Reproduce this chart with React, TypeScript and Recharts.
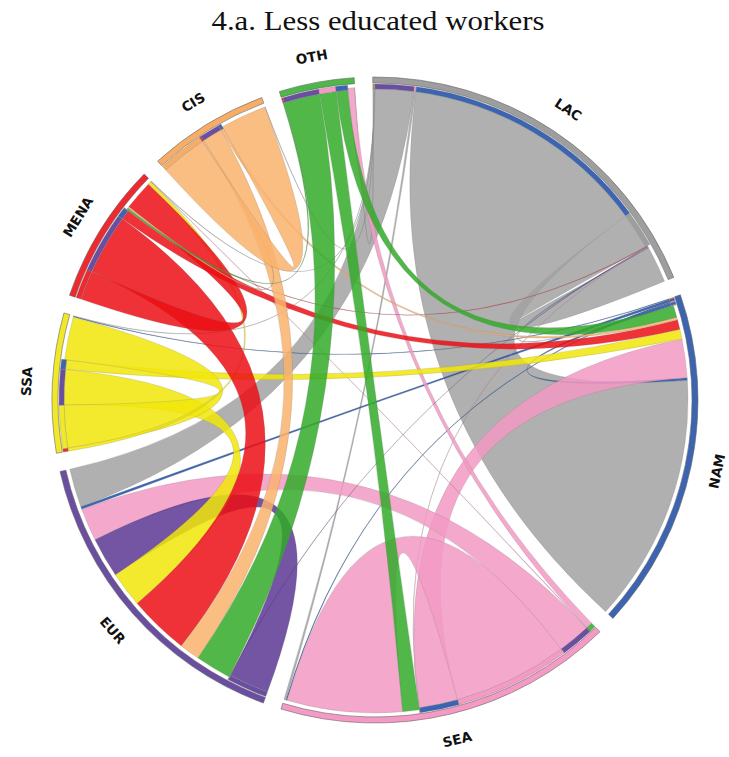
import { PieChart, Pie, Cell, Customized } from "recharts";

// regions clockwise from the top
const REGIONS = ["LAC", "NAM", "SEA", "EUR", "SSA", "MENA", "CIS", "OTH"];
// order of links inside each sector (outgoing first, then incoming)
const LINK_ORDER = ["OTH", "CIS", "MENA", "SSA", "EUR", "SEA", "NAM", "LAC"];

// flows from each origin, one value per destination in REGIONS order
const fromLAC = [6.8, 46.4, 0.4, 7.2, 0.1, 0.1, 0.1, 0.1];
const fromNAM = [0.15, 0.5, 0.2, 0.5, 0.15, 0, 0, 0];
const fromSEA = [0.1, 7.2, 21.5, 6.1, 0, 0.1, 0, 1.2];
const fromEUR = [0.1, 0, 0, 7.5, 0, 0, 0, 0];
const fromSSA = [0, 1.8, 0, 6.6, 8.0, 0.6, 0, 0];
const fromMENA = [0.1, 1.8, 0, 11.3, 0, 5.5, 0, 0];
const fromCIS = [0, 0.5, 0, 3.8, 0, 0.3, 8.6, 0];
const fromOTH = [0, 2.2, 3.1, 6.7, 0, 0.3, 0, 0];

const FLOWS: Record<string, number[]> = {
  LAC: fromLAC, NAM: fromNAM, SEA: fromSEA, EUR: fromEUR,
  SSA: fromSSA, MENA: fromMENA, CIS: fromCIS, OTH: fromOTH,
};

const TRACK_COLORS: Record<string, string> = {
  LAC: "#9e9e9e", NAM: "#3d64b0", SEA: "#f59ac4", EUR: "#6a4fa0",
  SSA: "#f2e82a", MENA: "#ec2a30", CIS: "#f7ad66", OTH: "#4db847",
};
const LINK_COLORS: Record<string, string> = {
  LAC: "#a1a2a1", NAM: "#1f4ea2", SEA: "#f29ac3", EUR: "#5b3793",
  SSA: "#f1e609", MENA: "#eb0e14", CIS: "#fab36c", OTH: "#31aa28",
};

const W = 729, H = 757;
const CX = 375, CY = 400;
const GAP = 3.3; // degrees between sectors
const START = -0.4; // clockwise from top
const R_OUT = [317, 323];
const R_TRACK = [311, 316];
const R_LINK_OUT = 311;
const R_LINK_IN = 313;
const R_LABEL = 349;

const val = (o: string, d: string) => FLOWS[o][REGIONS.indexOf(d)];

const sectors = REGIONS.map((r) => {
  const outs = LINK_ORDER.filter((d) => val(r, d) > 0).map((d) => ({ other: d, v: val(r, d) }));
  const ins = LINK_ORDER.filter((o) => val(o, r) > 0).map((o) => ({ other: o, v: val(o, r) }));
  const outTotal = outs.reduce((s, x) => s + x.v, 0);
  const inTotal = ins.reduce((s, x) => s + x.v, 0);
  return { name: r, outs, ins, outTotal, inTotal, total: outTotal + inTotal };
});

const grand = sectors.reduce((s, x) => s + x.total, 0);
const k = (360 - REGIONS.length * GAP) / grand; // degrees per unit
const gapValue = GAP / k;

// angular positions of every link end
const outPos: Record<string, [number, number]> = {};
const inPos: Record<string, [number, number]> = {};
{
  let a = START;
  sectors.forEach((s) => {
    s.outs.forEach((x) => {
      outPos[s.name + ">" + x.other] = [a, a + x.v * k];
      a += x.v * k;
    });
    s.ins.forEach((x) => {
      inPos[x.other + ">" + s.name] = [a, a + x.v * k];
      a += x.v * k;
    });
    a += GAP;
  });
}

const outerData = sectors.flatMap((s) => [
  { name: s.name, value: s.total, fill: TRACK_COLORS[s.name], gap: false },
  { name: "gap-" + s.name, value: gapValue, fill: "none", gap: true },
]);

const trackData = sectors.flatMap((s) => [
  ...s.outs.map((x) => ({ name: s.name + ">" + x.other, value: x.v, fill: TRACK_COLORS[x.other], gap: false })),
  { name: "in-" + s.name, value: s.inTotal, fill: "none", gap: true },
  { name: "gap-" + s.name, value: gapValue, fill: "none", gap: true },
]);

const links = REGIONS.flatMap((o) =>
  REGIONS.filter((d) => val(o, d) > 0).map((d) => ({ o, d, s: outPos[o + ">" + d], t: inPos[o + ">" + d] }))
);

const pt = (deg: number, r: number) => {
  const a = (deg * Math.PI) / 180;
  return [CX + r * Math.sin(a), CY - r * Math.cos(a)];
};

function ribbonPath(s: [number, number], t: [number, number]) {
  const s0 = pt(s[0], R_LINK_OUT), s1 = pt(s[1], R_LINK_OUT);
  const t0 = pt(t[0], R_LINK_IN), t1 = pt(t[1], R_LINK_IN);
  const ls = s[1] - s[0] > 180 ? 1 : 0;
  const lt = t[1] - t[0] > 180 ? 1 : 0;
  return (
    `M${s0[0]},${s0[1]}` +
    `A${R_LINK_OUT},${R_LINK_OUT} 0 ${ls} 1 ${s1[0]},${s1[1]}` +
    `Q${CX},${CY} ${t0[0]},${t0[1]}` +
    `A${R_LINK_IN},${R_LINK_IN} 0 ${lt} 1 ${t1[0]},${t1[1]}` +
    `Q${CX},${CY} ${s0[0]},${s0[1]}Z`
  );
}

function Ribbons() {
  return (
    <g>
      <text
        x={378}
        y={30}
        textAnchor="middle"
        fontFamily="Liberation Serif, DejaVu Serif, serif"
        fontSize={27.5}
        textLength={333}
        lengthAdjust="spacingAndGlyphs"
        fill="#111"
      >
        4.a. Less educated workers
      </text>
      {links.map((l) => (
        <path
          key={l.o + l.d}
          d={ribbonPath(l.s, l.t)}
          fill={LINK_COLORS[l.o]}
          fillOpacity={0.85}
          stroke="#777"
          strokeOpacity={0.35}
          strokeWidth={0.6}
        />
      ))}
    </g>
  );
}

function renderLabel(props: any) {
  const name = props.payload?.name ?? props.name;
  if (!name || !REGIONS.includes(name)) return null;
  const theta = 90 - props.midAngle;
  const th = ((theta % 360) + 360) % 360;
  const rot = th < 90 ? th : th < 270 ? th - 180 : th - 360;
  const [x, y] = pt(th, R_LABEL);
  return (
    <text
      key={name}
      x={x}
      y={y}
      textAnchor="middle"
      dominantBaseline="central"
      fontFamily="DejaVu Sans, sans-serif"
      fontWeight="bold"
      fontSize={13.5}
      fill="#111"
      transform={`rotate(${rot}, ${x}, ${y})`}
    >
      {name}
    </text>
  );
}

export default function App() {
  return (
    <div style={{ position: "absolute", left: 0, top: 0, width: W, height: H, background: "#fff" }}>
      <PieChart width={W} height={H} margin={{ top: 0, right: 0, bottom: 0, left: 0 }}>
        <Customized component={Ribbons} />
        <Pie
          data={outerData}
          dataKey="value"
          cx={CX}
          cy={CY}
          innerRadius={R_OUT[0]}
          outerRadius={R_OUT[1]}
          startAngle={90 - START}
          endAngle={90 - START - 360}
          paddingAngle={0}
          isAnimationActive={false}
          label={renderLabel}
          labelLine={false}
        >
          {outerData.map((e) => (
            <Cell key={e.name} fill={e.fill} stroke={e.gap ? "none" : "#666"} strokeWidth={0.6} />
          ))}
        </Pie>
        <Pie
          data={trackData}
          dataKey="value"
          cx={CX}
          cy={CY}
          innerRadius={R_TRACK[0]}
          outerRadius={R_TRACK[1]}
          startAngle={90 - START}
          endAngle={90 - START - 360}
          paddingAngle={0}
          isAnimationActive={false}
        >
          {trackData.map((e) => (
            <Cell key={e.name} fill={e.fill} stroke={e.gap ? "none" : "#777"} strokeWidth={0.3} />
          ))}
        </Pie>
      </PieChart>
    </div>
  );
}
